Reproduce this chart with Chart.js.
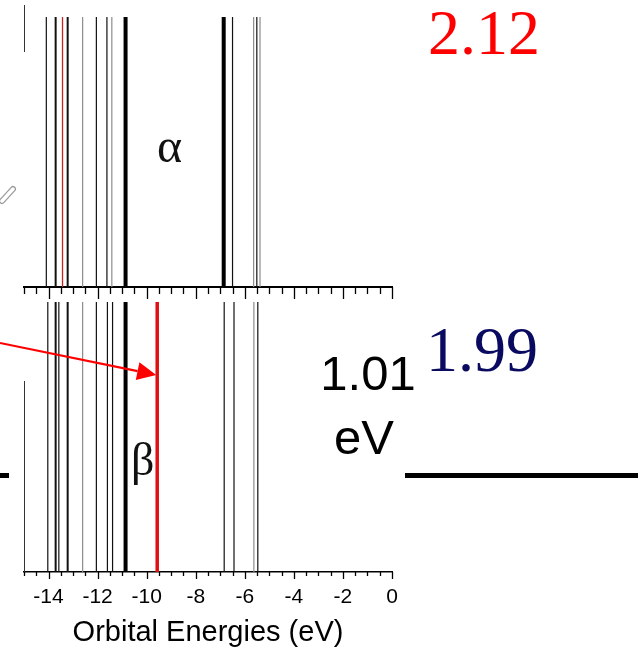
<!DOCTYPE html>
<html lang="en">
<head>
    <meta charset="UTF-8">
    <title>Orbital Energies (eV)</title>
    <script src="https://cdn.jsdelivr.net/npm/chart.js"></script>
    <style>
        body {
            margin: 0;
            background: #fff;
            font-family: "Liberation Sans", Arial, sans-serif;
        }
        .page {
            position: relative;
            width: 642px;
            height: 660px;
            overflow: hidden;
        }
        .page canvas {
            position: absolute;
            left: 0;
            top: 0;
        }
        .note {
            position: absolute;
            line-height: 1;
            white-space: nowrap;
        }
        .serif { font-family: "Liberation Serif", "Times New Roman", serif; }
        .sans { font-family: "Liberation Sans", Arial, sans-serif; }
    </style>
</head>
<body>

<div class="page">
    <canvas id="betaChart" width="642" height="660"></canvas>
    <canvas id="alphaChart" width="642" height="660"></canvas>

    <div class="note serif" style="left:428px; top:1px; font-size:64px; color:#ff0000;">2.12</div>
    <div class="note serif" style="left:426px; top:318px; font-size:64px; color:#0a0a60;">1.99</div>
    <div class="note sans" style="left:308px; width:120px; text-align:center; top:349px; font-size:49px; color:#000;">1.01</div>
    <div class="note sans" style="left:304px; width:120px; text-align:center; top:413px; font-size:49px; color:#000;">eV</div>
    <div class="note serif" style="left:157px; top:122px; font-size:48px; color:#111;">α</div>
    <div class="note serif" style="left:131px; top:437px; font-size:46px; color:#111;">β</div>
</div>

<script>
    // orbital energies (eV), grouped by how they are drawn
    const xMin = -15;
    const xMax = 0;

    const alphaThin = [-14.09, -12.05, -11.62, -6.50, -5.51];
    const alphaMid = [-13.71, -13.22];
    const alphaGray = [-12.61, -11.42, -5.64, -5.38];
    const alphaBold = [-10.86, -6.86];
    const alphaRed = [-13.43];

    const betaThin = [-14.03, -13.58, -12.05, -11.60, -11.39, -6.84, -6.44, -5.47];
    const betaMid = [-13.71, -13.22];
    const betaGray = [-12.61, -5.63];
    const betaBold = [-10.86];
    const betaRed = [-9.57];

    const axisTitle = 'Orbital Energies (eV)';

    function vline(e, color, width) {
        return {
            data: [{x: e, y: 0}, {x: e, y: 1}],
            showLine: true,
            borderColor: color,
            borderWidth: width,
            pointRadius: 0,
            fill: false
        };
    }

    function buildSets(groups) {
        let sets = [];
        groups.forEach(function (g) {
            g.values.forEach(function (e) {
                sets.push(vline(e, g.color, g.width));
            });
        });
        return sets;
    }

    // short / long tick marks, long ones on the labelled (even) values
    const tickMarks = {
        id: 'tickMarks',
        afterDraw(chart, args, opts) {
            const sc = chart.scales.x;
            const ctx = chart.ctx;
            ctx.save();
            ctx.strokeStyle = '#000';
            ctx.lineWidth = 1.3;
            sc.ticks.forEach(function (t) {
                const px = Math.round(sc.getPixelForValue(t.value)) + 0.5;
                const major = Number.isInteger(t.value) && t.value % 2 === 0;
                ctx.beginPath();
                ctx.moveTo(px, sc.top);
                ctx.lineTo(px, sc.top + (major ? opts.major : opts.minor));
                ctx.stroke();
            });
            ctx.restore();
        }
    };

    // bits of the surrounding figure: arrow to the red beta level, level bars
    const extras = {
        id: 'extras',
        afterDraw(chart) {
            const ctx = chart.ctx;
            const area = chart.chartArea;
            const sc = chart.scales.x;
            ctx.save();

            // thin left edge of the beta panel
            ctx.strokeStyle = '#333';
            ctx.lineWidth = 1;
            ctx.beginPath();
            ctx.moveTo(area.left + 0.5, 381);
            ctx.lineTo(area.left + 0.5, area.bottom);
            ctx.stroke();

            // thin line at top left
            ctx.beginPath();
            ctx.moveTo(area.left + 0.5, 5);
            ctx.lineTo(area.left + 0.5, 52);
            ctx.stroke();

            // outlined bond fragment at the far left
            ctx.lineCap = 'round';
            ctx.strokeStyle = '#9a9a9a';
            ctx.lineWidth = 6;
            ctx.beginPath();
            ctx.moveTo(2, 201);
            ctx.lineTo(13, 189);
            ctx.stroke();
            ctx.strokeStyle = '#fff';
            ctx.lineWidth = 3.5;
            ctx.stroke();
            ctx.lineCap = 'butt';

            // level bars
            ctx.fillStyle = '#000';
            ctx.fillRect(0, 473, 9, 5);
            ctx.fillRect(405, 473, 233, 5);

            // red arrow pointing to the red beta orbital
            const tipX = sc.getPixelForValue(betaRed[0]) - 1;
            const tipY = 375;
            const fromX = 0, fromY = 343;
            const ang = Math.atan2(tipY - fromY, tipX - fromX);
            const headLen = 19, headHalf = 9;
            const bx = tipX - headLen * Math.cos(ang);
            const by = tipY - headLen * Math.sin(ang);
            ctx.strokeStyle = '#ff0000';
            ctx.fillStyle = '#ff0000';
            ctx.lineWidth = 2.2;
            ctx.beginPath();
            ctx.moveTo(fromX, fromY);
            ctx.lineTo(bx, by);
            ctx.stroke();
            ctx.beginPath();
            ctx.moveTo(tipX, tipY);
            ctx.lineTo(bx - headHalf * Math.sin(ang), by + headHalf * Math.cos(ang));
            ctx.lineTo(bx + headHalf * Math.sin(ang), by - headHalf * Math.cos(ang));
            ctx.closePath();
            ctx.fill();

            ctx.restore();
        }
    };

    Chart.defaults.font.family = '"Liberation Sans", Arial, sans-serif';
    Chart.defaults.color = '#000';

    function xScale(showLabels, width, tickLen) {
        return {
            type: 'linear',
            min: xMin,
            max: xMax,
            border: { display: true, color: '#000', width: width },
            grid: {
                display: true,
                drawOnChartArea: false,
                drawTicks: true,
                tickLength: tickLen,
                tickColor: 'rgba(0,0,0,0)'
            },
            ticks: {
                display: showLabels,
                stepSize: 0.5,
                autoSkip: false,
                maxRotation: 0,
                padding: 5,
                font: { size: 21 },
                callback: function (v) {
                    return (Number.isInteger(v) && v % 2 === 0) ? String(v) : '';
                }
            },
            title: {
                display: showLabels,
                text: axisTitle,
                font: { size: 29 },
                padding: { top: 0, bottom: 0 }
            }
        };
    }

    const baseOptions = {
        responsive: false,
        animation: false,
        events: [],
        plugins: { legend: { display: false }, tooltip: { enabled: false } }
    };

    // beta panel (bottom, with the axis labels)
    new Chart(document.getElementById('betaChart').getContext('2d'), {
        type: 'scatter',
        data: {
            datasets: buildSets([
                { values: betaGray, color: '#8c8c8c', width: 1.2 },
                { values: betaThin, color: '#111', width: 1.2 },
                { values: betaMid, color: '#111', width: 2 },
                { values: betaBold, color: '#000', width: 4 },
                { values: betaRed, color: '#e01010', width: 3.5 }
            ])
        },
        options: Object.assign({}, baseOptions, {
            layout: { padding: { left: 24, right: 250, top: 302, bottom: 10 } },
            scales: {
                x: xScale(true, 1.5, 8),
                y: { display: false, min: 0, max: 1 }
            },
            plugins: Object.assign({}, baseOptions.plugins, {
                tickMarks: { major: 7, minor: 4 }
            })
        }),
        plugins: [tickMarks, extras]
    });

    // alpha panel (top)
    new Chart(document.getElementById('alphaChart').getContext('2d'), {
        type: 'scatter',
        data: {
            datasets: buildSets([
                { values: alphaGray, color: '#8c8c8c', width: 1.2 },
                { values: alphaThin, color: '#111', width: 1.2 },
                { values: alphaMid, color: '#111', width: 2 },
                { values: alphaBold, color: '#000', width: 4 },
                { values: alphaRed, color: '#cc2020', width: 1.3 }
            ])
        },
        options: Object.assign({}, baseOptions, {
            layout: { padding: { left: 24, right: 250, top: 17, bottom: 361 } },
            scales: {
                x: xScale(false, 2, 12),
                y: { display: false, min: 0, max: 1 }
            },
            plugins: Object.assign({}, baseOptions.plugins, {
                tickMarks: { major: 12, minor: 7 }
            })
        }),
        plugins: [tickMarks]
    });
</script>

</body>
</html>
